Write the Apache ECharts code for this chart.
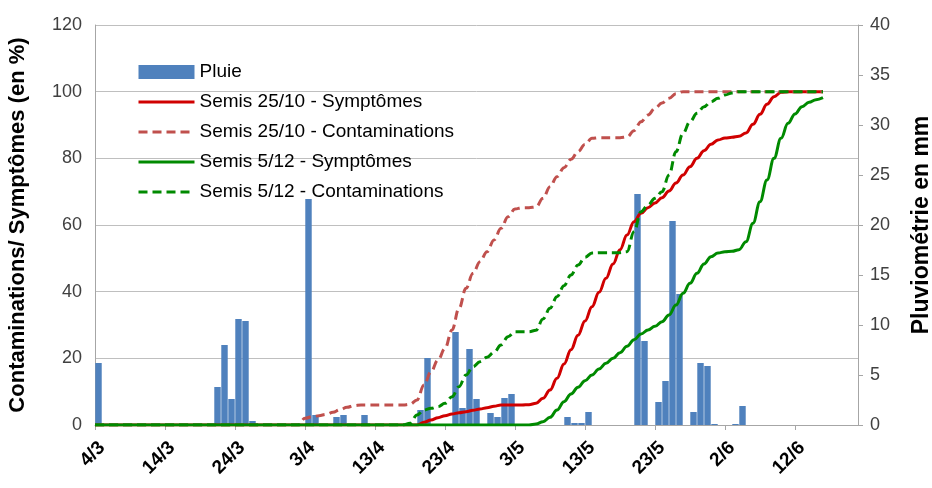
<!DOCTYPE html>
<html><head><meta charset="utf-8">
<script src="https://cdn.jsdelivr.net/npm/echarts@6/dist/echarts.min.js"></script>
<style>html,body{margin:0;padding:0;background:#fff}#c{width:932px;height:488px}</style>
</head><body><div id="c"></div>
<script>
// Dates: 4/3 .. 21/6 (daily)
const monthDays = [[3, 4, 31], [4, 1, 30], [5, 1, 31], [6, 1, 21]];
const dates = [];
monthDays.forEach(([m, s, e]) => { for (let d = s; d <= e; d++) dates.push(d + '/' + m); });
const barDates = dates.slice(0, dates.length - 1);

// Pluie (mm), one per day from 4/3
const pluie = [
 6.2,0,0,0,0,0,0,0,0,0, 0,0,0,0,0,0,0,3.8,8.0,2.6,
 10.6,10.4,0.4,0,0,0,0,0,0,0, 22.6,1.0,0,0,0.8,1.0,0,0,1.0,0,
 0,0,0,0,0,0,1.5,6.7,0,0, 0,9.3,1.7,7.6,2.6,0,1.2,0.8,2.7,3.1,
 0,0,0,0,0,0,0,0.8,0.2,0.2, 1.3,0,0,0,0,0,0,23.1,8.4,0,
 2.3,4.4,20.4,13.1,0,1.3,6.2,5.9,0.1,0, 0,0.1,1.9,0,0,0,0,0,0,0,
 0,0,0,0,0,0,0,0,0
];

// Semis 25/10 - Symptômes (%)
const s2510Sym = [
 0,0,0,0,0,0,0,0,0,0, 0,0,0,0,0,0,0,0,0,0,
 0,0,0,0,0,0,0,0,0,0, 0,0,0,0,0,0,0,0,0,0,
 0,0,0,0,0,0,0,0.8,1.5,2.2, 2.8,3.3,3.7,4,4.4,4.8,5.2,5.6,6,6,
 6,6,6.1,6.5,8,10.5,14,18.3,22.6,26.9, 31.2,35.5,39.8,44,48.3,52.6,57,61,63.5,65.2,
 66.6,68.2,70.2,72.6,75,77.5,80,82.3,84.2,85.5, 86.1,86.3,86.6,87.6,90.2,93.2,96.2,98.5,99.8,100,
 100,100,100,100,100
];
// Semis 25/10 - Contaminations (%)
const s2510Cont = [
 0,0,0,0,0,0,0,0,0,0, 0,0,0,0,0,0,0,0,0,0,
 0,0,0,0,0,0,0,0,0,0, 2,2.5,2.8,3.2,3.8,4.6,5.3,5.8,6,6,
 6,6,6,6,6,6.2,7.5,12,16,19.5, 23,28.5,35,41,45.5,49,52,55.5,59,62.5,
 64.8,65.2,65.2,65.4,68,71.5,74.5,77.2,79.7,82, 84.2,86,86.2,86.2,86.2,86.2,86.4,88.3,91,93,
 95,96.6,98,99.4,100,100,100,100,100,100, 100,100,100,100,100,100,100,100,100,100,
 100,100,100,100,100
];
// Semis 5/12 - Symptômes (%)
const s512Sym = [
 0,0,0,0,0,0,0,0,0,0, 0,0,0,0,0,0,0,0,0,0,
 0,0,0,0,0,0,0,0,0,0, 0,0,0,0,0,0,0,0,0,0,
 0,0,0,0,0,0,0,0,0,0, 0,0,0,0,0,0,0,0,0,0,
 0,0,0,0.3,1,2.3,4.5,7,9.3,11.3, 13.3,15,16.8,18.5,20,21.7,23.6,25.6,27.3,28.5,
 29.6,31,33,36,39.5,42.5,45.5,48.3,50.5,51.6, 52,52.1,52.6,55,60.5,67,73.5,80,86,90.5,
 93.3,95.5,96.8,97.6,98.2
];
// Semis 5/12 - Contaminations (%)
const s512Cont = [
 0,0,0,0,0,0,0,0,0,0, 0,0,0,0,0,0,0,0,0,0,
 0,0,0,0,0,0,0,0,0,0, 0,0,0,0,0,0,0,0,0,0,
 0,0,0,0,0,0.5,3,4.5,5,5.5, 6.5,8.5,11.5,15,17.5,19,20.3,21.8,24,26.5,
 28,28,28,28.4,31.8,35,38.5,41.8,45,48, 50.3,51.6,51.7,51.7,51.7,51.7,52,58,64,66,
 68,70,75,82,87.5,91,93.5,95.5,97,98, 99,99.6,100,100,100,100,100,100,100,100,
 100,100,100,100,100
];

const FONT = '"Liberation Sans", Arial, sans-serif';
const chart = echarts.init(document.getElementById('c'), null, {renderer: 'canvas'});
const lineCommon = {type: 'line', xAxisIndex: 0, yAxisIndex: 0, symbol: 'none', smooth: 0.4, smoothMonotone: 'x', z: 3};
const lineLegend = (name) => ({name: name, itemStyle: {opacity: 0}, lineStyle: {width: 3}});
chart.setOption({
  animation: false,
  backgroundColor: '#fff',
  textStyle: {fontFamily: FONT},
  grid: {left: 95, right: 74, top: 25, bottom: 63, containLabel: false, outerBoundsMode: 'none'},
  legend: {
    orient: 'vertical', left: 132, top: 57, itemWidth: 56, itemHeight: 14, itemGap: 10,
    lineStyle: {width: 3},
    textStyle: {fontFamily: FONT, fontSize: 19, lineHeight: 20, color: '#000'},
    data: [
      {name: 'Pluie', icon: 'rect'},
      lineLegend('Semis 25/10 - Symptômes'), lineLegend('Semis 25/10 - Contaminations'),
      lineLegend('Semis 5/12 - Symptômes'), lineLegend('Semis 5/12 - Contaminations')
    ]
  },
  xAxis: [
    {type: 'category', data: dates, boundaryGap: false,
     axisLine: {lineStyle: {color: '#a6a6a6', width: 1}},
     axisTick: {interval: 9, length: 5, lineStyle: {color: '#a6a6a6'}},
     axisLabel: {interval: 9, rotate: 45, fontSize: 19, fontWeight: 'bold', color: '#000', margin: 27,
                 padding: [0, -10, 0, 0], fontFamily: FONT},
     splitLine: {show: false}},
    {type: 'category', data: barDates, boundaryGap: true, show: false}
  ],
  yAxis: [
    {type: 'value', min: 0, max: 120, interval: 20, position: 'left',
     name: 'Contaminations/ Symptômes (en %)', nameLocation: 'middle', nameRotate: 90, nameGap: 66,
     nameTextStyle: {fontSize: 22, fontWeight: 'bold', color: '#000', fontFamily: FONT},
     axisLine: {show: true, lineStyle: {color: '#a6a6a6'}},
     axisTick: {show: false},
     axisLabel: {fontSize: 18, color: '#404040', margin: 13, fontFamily: FONT},
     splitLine: {lineStyle: {color: '#bfbfbf', width: 1}}},
    {type: 'value', min: 0, max: 40, interval: 5, position: 'right',
     name: 'Pluviométrie en mm', nameLocation: 'middle', nameRotate: 90, nameGap: 52,
     nameTextStyle: {fontSize: 23, fontWeight: 'bold', color: '#000', fontFamily: FONT},
     axisLine: {show: true, lineStyle: {color: '#a6a6a6'}},
     axisTick: {show: true, length: 5, lineStyle: {color: '#a6a6a6'}},
     axisLabel: {fontSize: 18, color: '#404040', margin: 12, fontFamily: FONT},
     splitLine: {show: false}}
  ],
  series: [
    {name: 'Pluie', type: 'bar', xAxisIndex: 1, yAxisIndex: 1, data: pluie,
     barCategoryGap: '8%', itemStyle: {color: '#4f81bd'}, z: 2},
    Object.assign({name: 'Semis 25/10 - Symptômes', data: s2510Sym,
     lineStyle: {color: '#d00000', width: 3}, itemStyle: {color: '#d00000'}}, lineCommon),
    Object.assign({name: 'Semis 25/10 - Contaminations', data: s2510Cont,
     lineStyle: {color: '#c0504d', width: 3, type: [9, 5]}, itemStyle: {color: '#c0504d'}}, lineCommon),
    Object.assign({name: 'Semis 5/12 - Symptômes', data: s512Sym,
     lineStyle: {color: '#008a00', width: 3}, itemStyle: {color: '#008a00'}}, lineCommon),
    Object.assign({name: 'Semis 5/12 - Contaminations', data: s512Cont,
     lineStyle: {color: '#008a00', width: 3, type: [9, 5]}, itemStyle: {color: '#008a00'}}, lineCommon)
  ]
});
</script></body></html>
